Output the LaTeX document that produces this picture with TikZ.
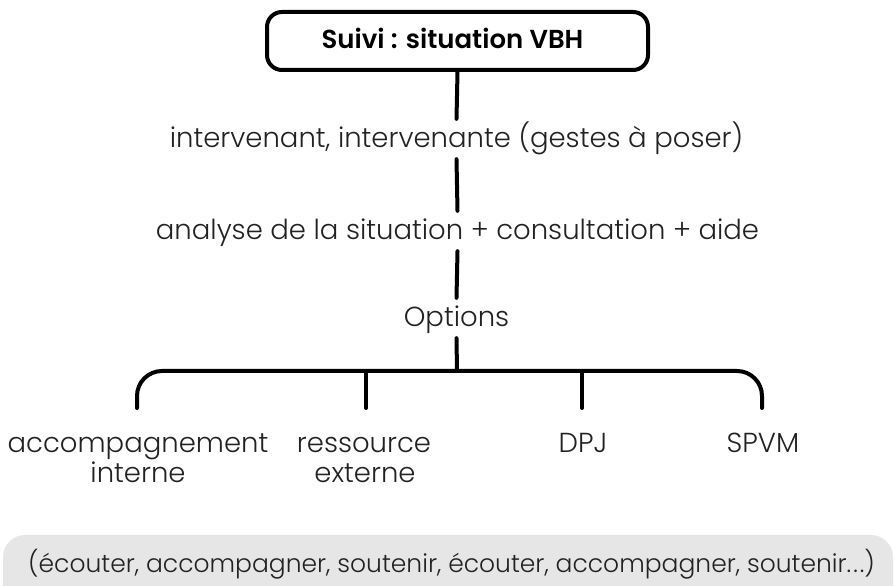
\documentclass[tikz,border=0pt]{standalone}
\usepackage{fontspec}
\setmainfont{Poppins}[UprightFont=*-Light, BoldFont=*-SemiBold]
\usetikzlibrary{calc}
\definecolor{txt}{HTML}{222222}
\definecolor{barfill}{HTML}{E6E6E6}
\tikzset{
  conn/.style={line width=4pt, line cap=round, black},
  lbl/.style={anchor=base, inner sep=0pt, text=txt, font=\fontsize{27.5}{32}\selectfont},
  midlbl/.style={lbl, text height=22pt, text depth=4pt, inner ysep=7pt},
  titlebox/.style={draw, line width=4pt, rounded corners=15pt, minimum width=381pt, minimum height=58pt, inner sep=0pt},
  titletext/.style={anchor=base, inner sep=0pt, font=\bfseries\fontsize{26}{30}\selectfont},
}
\begin{document}
\begin{tikzpicture}[x=1pt,y=1pt]
\useasboundingbox (0,0) rectangle (895,586);
% bottom grey bar
\begin{scope}
\clip (0,0) rectangle (895,586);
\node[fill=barfill, rounded corners=22pt, minimum width=890pt, minimum height=80pt, inner sep=0pt] (grey) at (448,11) {};
\end{scope}
\node[lbl, font=\fontsize{25}{30}\selectfont] (gtxt) at (451.5,13) {(écouter, accompagner, soutenir, écouter, accompagner, soutenir.\kern2pt.\kern2pt.)};

\node[titlebox] (title) at (457.5,545) {};
\node[titletext] (ttxt) at (452.5,537) {Suivi : situation VBH};

\node[midlbl] (t1) at (456.5,438) {intervenant, intervenante (gestes à poser)};
\node[midlbl] (t2) at (457.5,346) {analyse de la situation + consultation + aide};
\node[midlbl] (opt) at (456.5,259) {Options};

\coordinate (bar) at (457,215);
\coordinate (e1) at (137,178);
\coordinate (e2) at (366,178);
\coordinate (e3) at (582,178);
\coordinate (e4) at (762,178);

\draw[conn] (title.south) -- (t1.north);
\draw[conn] (t1.south) -- (t2.north);
\draw[conn] (t2.south) -- (opt.north);
\draw[conn] (opt.south) -- (bar);
\draw[conn, rounded corners=25pt] (e1) |- (bar) -| (e4);
\draw[conn] (e2 |- bar) -- (e2);
\draw[conn] (e3 |- bar) -- (e3);

\node[lbl] (a1) at (138,133) {accompagnement};
\node[lbl] (a2) at (138,103) {interne};
\node[lbl] (b1) at (364,133) {ressource};
\node[lbl] (b2) at (365,103) {externe};
\node[lbl] (c1) at (583,133) {DPJ};
\node[lbl] (d1) at (763,133) {SPVM};
\end{tikzpicture}
\end{document}
